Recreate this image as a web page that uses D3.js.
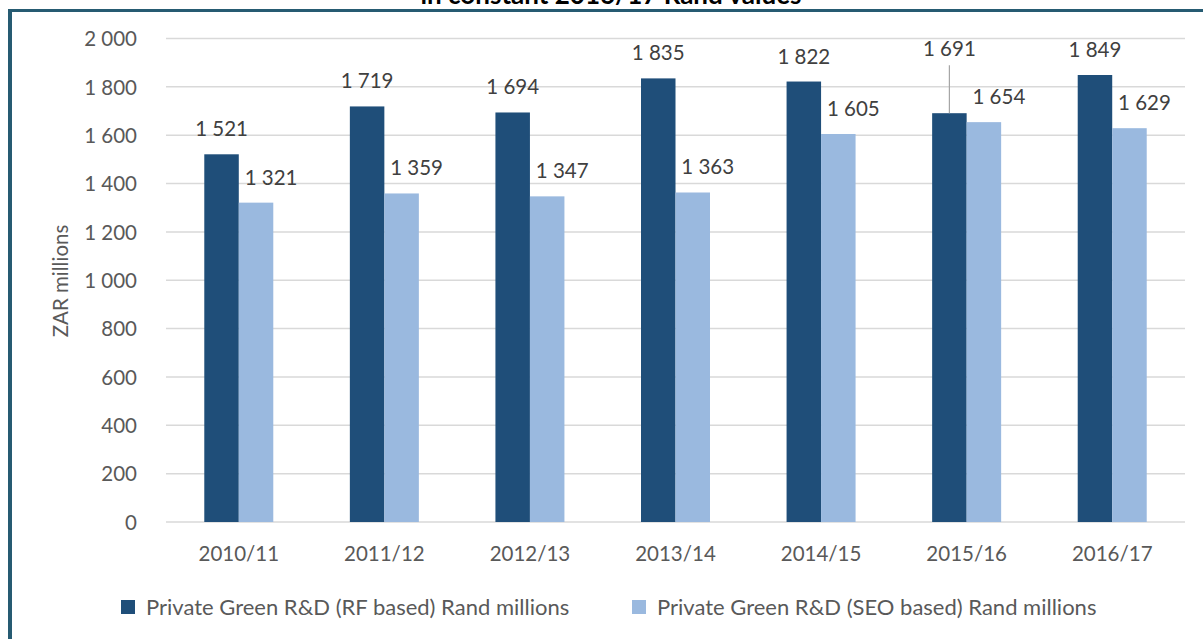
<!DOCTYPE html>
<html>
<head>
<meta charset="utf-8">
<script src="https://cdn.jsdelivr.net/npm/d3@7"></script>
<style>
  html, body { margin: 0; padding: 0; background: #ffffff; }
  svg { display: block; }
</style>
</head>
<body>
<svg id="chart" width="1203" height="639"></svg>
<script>
// ---- data ----
const categories = ["2010/11", "2011/12", "2012/13", "2013/14", "2014/15", "2015/16", "2016/17"];
const rfValues  = [1521, 1719, 1694, 1835, 1822, 1691, 1849];
const seoValues = [1321, 1359, 1347, 1363, 1605, 1654, 1629];
const seriesNames = ["Private Green R&D (RF based) Rand millions", "Private Green R&D (SEO based) Rand millions"];
const yTicks = [0, 200, 400, 600, 800, 1000, 1200, 1400, 1600, 1800, 2000];
const titleText = "in constant 2016/17 Rand values";
const yAxisTitle = "ZAR millions";

// ---- layout ----
const W = 1203, H = 639;
const plot = { left: 166, right: 1185, top: 38.5, bottom: 522 };
const colors = ["#1f4e79", "#9ab9df"];
const font = "Lato, 'Open Sans', sans-serif";
const fs = 20.5;

const fmt = v => d3.format(",")(v).replace(/,/g, " ");

const svg = d3.select("#chart");

// frame
svg.append("line").attr("x1", 8).attr("x2", W).attr("y1", 10.5).attr("y2", 10.5)
  .attr("stroke", "#265b72").attr("stroke-width", 3);
svg.append("line").attr("x1", 10).attr("x2", 10).attr("y1", 9).attr("y2", H)
  .attr("stroke", "#265b72").attr("stroke-width", 4);

// title (second line of the original title; the reference shows it clipped at the top edge)
svg.append("text").attr("x", 611).attr("y", 4)
  .attr("text-anchor", "middle").attr("font-family", font).attr("font-weight", "bold")
  .attr("font-size", 26).attr("fill", "#000").text(titleText);

const x0 = d3.scaleBand().domain(categories).range([plot.left, plot.right]).paddingInner(0).paddingOuter(0);
const groupW = 69;
const x1 = d3.scaleBand().domain([0, 1]).range([0, groupW]);
const y = d3.scaleLinear().domain([0, 2000]).range([plot.bottom, plot.top]);

// gridlines
svg.append("g").selectAll("line").data(yTicks).join("line")
  .attr("x1", plot.left).attr("x2", plot.right)
  .attr("y1", d => y(d)).attr("y2", d => y(d))
  .attr("stroke", "#d9d9d9").attr("stroke-width", 1.5);

// y axis labels
const yAxis = d3.axisLeft(y).tickValues(yTicks).tickFormat(fmt).tickSize(0).tickPadding(0);
const ya = svg.append("g").attr("transform", `translate(137,0)`).call(yAxis);
ya.select(".domain").remove();
ya.selectAll("text").attr("font-family", font).attr("font-size", fs).attr("fill", "#595959").attr("dy", "0.35em");

// y axis title
svg.append("text").attr("transform", `translate(68,281) rotate(-90)`)
  .attr("text-anchor", "middle").attr("font-family", font).attr("font-size", fs)
  .attr("fill", "#595959").text(yAxisTitle);

// x axis labels
const xAxis = d3.axisBottom(x0).tickSize(0).tickPadding(0);
const xa = svg.append("g").attr("transform", `translate(0,${plot.bottom})`).call(xAxis);
xa.select(".domain").remove();
xa.selectAll("text").attr("font-family", font).attr("font-size", fs).attr("fill", "#595959")
  .attr("dy", 0).attr("y", 39);

// bars
const series = [rfValues, seoValues];
const groups = svg.append("g").selectAll("g").data(categories).join("g")
  .attr("transform", d => `translate(${x0(d) + x0.bandwidth() / 2 - groupW / 2},0)`);

groups.selectAll("rect").data((c, i) => series.map((s, k) => ({ k, v: s[i] }))).join("rect")
  .attr("x", d => x1(d.k)).attr("width", x1.bandwidth())
  .attr("y", d => y(d.v)).attr("height", d => y(0) - y(d.v))
  .attr("fill", d => colors[d.k]);

// data labels (manual placement nudges as in the reference)
const labelDx = [0, 15];
const labelLift = { "2015/16": [39, 0] }; // extra lift of dark label with leader line
groups.each(function (c, i) {
  const g = d3.select(this);
  series.forEach((s, k) => {
    const cx = x1(k) + x1.bandwidth() / 2;
    const extra = labelLift[c] ? labelLift[c][k] : 0;
    const by = y(s[i]) - 18 - extra;
    g.append("text").attr("x", cx + labelDx[k]).attr("y", by)
      .attr("text-anchor", "middle").attr("font-family", font).attr("font-size", fs)
      .attr("fill", "#404040").text(fmt(s[i]));
    if (extra > 0) {
      g.append("line").attr("x1", cx).attr("x2", cx)
        .attr("y1", by + 9).attr("y2", y(s[i]))
        .attr("stroke", "#a6a6a6").attr("stroke-width", 1.2);
    }
  });
});

// legend
const legendX = [121, 632];
const lg = svg.append("g").selectAll("g").data(seriesNames).join("g")
  .attr("transform", (d, i) => `translate(${legendX[i]},600)`);
lg.append("rect").attr("width", 14).attr("height", 14).attr("fill", (d, i) => colors[i]);
lg.append("text").attr("x", 25).attr("y", 15).attr("font-family", font).attr("font-size", 22)
  .attr("fill", "#595959").text(d => d);
</script>
</body>
</html>
